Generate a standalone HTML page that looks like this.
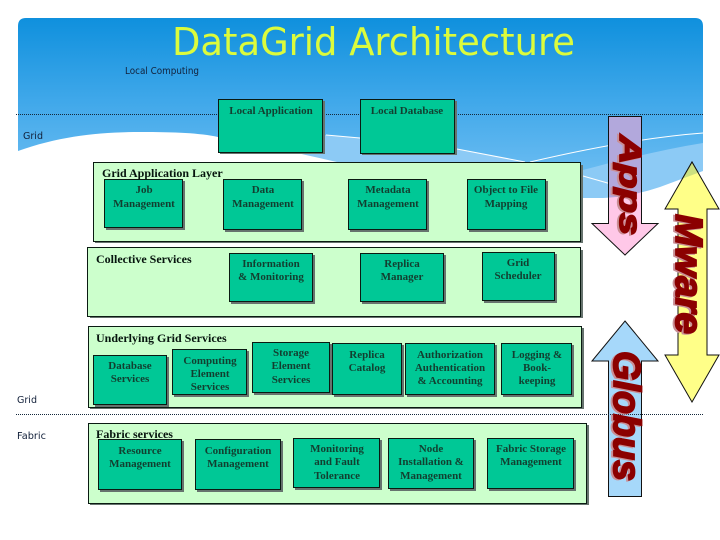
<!DOCTYPE html>
<html><head><meta charset="utf-8"><style>
html,body{margin:0;padding:0;background:#fff}
svg{display:block}
.p{fill:#ccffcc;stroke:#0a1a12;stroke-width:1}
.b{fill:#00c896;stroke:#0a1a12;stroke-width:1}
.s{fill:#66736e}
.t{font-family:"Liberation Serif",serif;font-size:11px;font-weight:bold;fill:#123f30;text-anchor:middle}
.h{font-family:"Liberation Serif",serif;font-size:12px;font-weight:bold;fill:#06140e}
.l{font-family:"DejaVu Sans",sans-serif;font-size:9.5px;fill:#12203a}
.w{font-family:"Liberation Sans",sans-serif;font-weight:bold;font-style:italic;fill:#8b0000;stroke:#8b0000;stroke-width:1.8}
.ws{font-family:"Liberation Sans",sans-serif;font-weight:bold;font-style:italic;fill:#c98f96;stroke:#c98f96;stroke-width:1.8}
</style></head><body>
<svg width="720" height="540" viewBox="0 0 720 540" xmlns="http://www.w3.org/2000/svg">
<defs>
<linearGradient id="g" x1="0" y1="18" x2="0" y2="170" gradientUnits="userSpaceOnUse">
<stop offset="0" stop-color="#0f90dd"/><stop offset=".55" stop-color="#40a8ea"/><stop offset="1" stop-color="#68bbf1"/>
</linearGradient>
<clipPath id="wave"><path d="M18 151C60 136 100 132 140 132C175 132 200 133 218 137C250 143 285 150 337 162L583 198L603 198C625 197 645 192 660 187L703 171L703 18L18 18Z"/></clipPath>
</defs>
<rect width="720" height="540" fill="#fff"/>
<!-- light band -->
<path d="M200 130L703 130V171L660 187C645 192 625 197 603 198L583 198L337 162C285 150 250 143 218 137Z" fill="#8ccaf5"/>
<!-- blue -->
<path d="M18 26Q18 18 26 18L695 18Q703 18 703 26L703 143C660 150 620 160 583 170L525 162L457 149L360 138L326 135L218 137C200 133 175 132 140 132C100 132 60 136 18 151Z" fill="url(#g)"/>
<path d="M326 135L360 138L457 149L525 162M530 162C590 148 650 137 703 133M583 176L625 188" fill="none" stroke="#fff" stroke-width="1"/>

<line x1="16" y1="114.500" x2="703" y2="114.500" stroke="#14283a" stroke-width="1" stroke-dasharray="1 1"/>
<line x1="16" y1="414.500" x2="703" y2="414.500" stroke="#14283a" stroke-width="1" stroke-dasharray="1 1"/>

<text x="172" y="55" font-family="DejaVu Sans,sans-serif" font-size="38" fill="#dcfb3c" textLength="403" lengthAdjust="spacingAndGlyphs">DataGrid Architecture</text>
<text class="l" x="125" y="74" textLength="74" lengthAdjust="spacingAndGlyphs">Local Computing</text>
<text class="l" x="23" y="139" textLength="20" lengthAdjust="spacingAndGlyphs">Grid</text>
<text class="l" x="17" y="403" textLength="20" lengthAdjust="spacingAndGlyphs">Grid</text>
<text class="l" x="17" y="439" textLength="29" lengthAdjust="spacingAndGlyphs">Fabric</text>

<!-- local boxes -->
<rect class="s" x="220" y="101" width="105" height="53"/><rect class="b" x="218.500" y="99.500" width="104" height="53"/>
<text class="t" x="271" y="114">Local Application</text>
<rect class="s" x="362" y="101" width="95" height="54"/><rect class="b" x="360.500" y="99.500" width="94" height="54"/>
<text class="t" x="407" y="114">Local Database</text>

<!-- panels -->
<rect class="s" x="95" y="165" width="488" height="78"/><rect class="p" x="93.500" y="162.500" width="487" height="79"/>
<text class="h" x="102" y="177">Grid Application Layer</text>
<rect class="s" x="90" y="250" width="493" height="68"/><rect class="p" x="87.500" y="247.500" width="493" height="69"/>
<text class="h" x="96" y="263">Collective Services</text>
<rect class="s" x="90" y="328" width="494" height="81"/><rect class="p" x="88.500" y="326.500" width="493" height="81"/>
<text class="h" x="96" y="342">Underlying Grid Services</text>
<rect class="s" x="90" y="425" width="499" height="80"/><rect class="p" x="88.500" y="423.500" width="498" height="80"/>
<text class="h" x="96" y="438">Fabric services</text>

<!-- App layer -->
<rect class="s" x="106" y="181" width="79" height="49"/><rect class="b" x="104.500" y="179.500" width="78" height="48"/>
<text class="t" x="144" y="193">Job</text><text class="t" x="144" y="207">Management</text>
<rect class="s" x="225" y="181" width="79" height="51"/><rect class="b" x="223.500" y="179.500" width="78" height="50"/>
<text class="t" x="263" y="193">Data</text><text class="t" x="263" y="207">Management</text>
<rect class="s" x="350" y="181" width="79" height="51"/><rect class="b" x="348.500" y="179.500" width="78" height="50"/>
<text class="t" x="388" y="193">Metadata</text><text class="t" x="388" y="207">Management</text>
<rect class="s" x="469" y="181" width="79" height="51"/><rect class="b" x="467.500" y="179.500" width="78" height="50"/>
<text class="t" x="506" y="193">Object to File</text><text class="t" x="506" y="207">Mapping</text>

<!-- Collective -->
<rect class="s" x="231" y="255" width="84" height="49"/><rect class="b" x="229.500" y="253.500" width="83" height="48"/>
<text class="t" x="271" y="267">Information</text><text class="t" x="271" y="280">&amp; Monitoring</text>
<rect class="s" x="362" y="255" width="84" height="49"/><rect class="b" x="360.500" y="253.500" width="83" height="48"/>
<text class="t" x="402" y="267">Replica</text><text class="t" x="402" y="280">Manager</text>
<rect class="s" x="484" y="254" width="73" height="49"/><rect class="b" x="482.500" y="252.500" width="72" height="48"/>
<text class="t" x="518" y="266">Grid</text><text class="t" x="518" y="279">Scheduler</text>

<!-- Underlying -->
<rect class="s" x="95" y="357" width="74" height="50"/><rect class="b" x="93.500" y="355.500" width="73" height="49"/>
<text class="t" x="130" y="369">Database</text><text class="t" x="130" y="382">Services</text>
<rect class="s" x="174" y="351" width="75" height="46"/><rect class="b" x="172.500" y="349.500" width="74" height="45"/>
<text class="t" x="210" y="364">Computing</text><text class="t" x="210" y="377">Element</text><text class="t" x="210" y="390">Services</text>
<rect class="s" x="254" y="344" width="78" height="51"/><rect class="b" x="252.500" y="342.500" width="77" height="50"/>
<text class="t" x="291" y="356">Storage</text><text class="t" x="291" y="369">Element</text><text class="t" x="291" y="383">Services</text>
<rect class="s" x="334" y="345" width="70" height="52"/><rect class="b" x="332.500" y="343.500" width="69" height="51"/>
<text class="t" x="367" y="358">Replica</text><text class="t" x="367" y="371">Catalog</text>
<rect class="s" x="407" y="345" width="90" height="52"/><rect class="b" x="405.500" y="343.500" width="89" height="51"/>
<text class="t" x="450" y="358">Authorization</text><text class="t" x="450" y="371">Authentication</text><text class="t" x="450" y="384">&amp; Accounting</text>
<rect class="s" x="503" y="345" width="71" height="52"/><rect class="b" x="501.500" y="343.500" width="70" height="51"/>
<text class="t" x="537" y="358">Logging &amp;</text><text class="t" x="537" y="371">Book-</text><text class="t" x="537" y="384">keeping</text>

<!-- Fabric -->
<rect class="s" x="100" y="441" width="84" height="51"/><rect class="b" x="98.500" y="439.500" width="83" height="50"/>
<text class="t" x="140" y="454">Resource</text><text class="t" x="140" y="467">Management</text>
<rect class="s" x="197" y="441" width="86" height="51"/><rect class="b" x="195.500" y="439.500" width="85" height="50"/>
<text class="t" x="238" y="454">Configuration</text><text class="t" x="238" y="467">Management</text>
<rect class="s" x="295" y="440" width="87" height="50"/><rect class="b" x="293.500" y="438.500" width="86" height="49"/>
<text class="t" x="337" y="452">Monitoring</text><text class="t" x="337" y="465">and Fault</text><text class="t" x="337" y="479">Tolerance</text>
<rect class="s" x="390" y="440" width="86" height="51"/><rect class="b" x="388.500" y="438.500" width="85" height="50"/>
<text class="t" x="431" y="452">Node</text><text class="t" x="431" y="465">Installation &amp;</text><text class="t" x="431" y="479">Management</text>
<rect class="s" x="489" y="440" width="87" height="51"/><rect class="b" x="487.500" y="438.500" width="86" height="50"/>
<text class="t" x="531" y="452">Fabric Storage</text><text class="t" x="531" y="465">Management</text>

<!-- Arrows -->
<path d="M608.500 116.500H641.500V223.500H658L625 255L592 223.500H608.500Z" fill="#ffc8e8" stroke="#111" stroke-width="1"/>
<path d="M608.500 116.500H641.500V223.500H658L625 255L592 223.500H608.500Z" fill="#b2a8dc" stroke="#111" stroke-width="1" clip-path="url(#wave)"/>
<path d="M692 162L719 209H707V355H719L692 402L665 355H678V209H665Z" fill="#ffff88" stroke="#111" stroke-width="1"/>
<path d="M692 162L719 209H707V355H719L692 402L665 355H678V209H665Z" fill="#cce080" stroke="#111" stroke-width="1" clip-path="url(#wave)"/>
<path d="M625 321L658 361H641.500V496.500H608.500V361H592Z" fill="#a6d8fa" stroke="#111" stroke-width="1"/>
<line x1="608" y1="414.500" x2="642" y2="414.500" stroke="#14283a" stroke-dasharray="1 1"/>

<!-- WordArt -->
<text class="ws" font-size="31" transform="translate(618,136) rotate(90)" textLength="100" lengthAdjust="spacingAndGlyphs">Apps</text>
<text class="w" font-size="31" transform="translate(620,135) rotate(90)" textLength="100" lengthAdjust="spacingAndGlyphs">Apps</text>
<text class="ws" font-size="38" transform="translate(674,215) rotate(90)" textLength="120" lengthAdjust="spacingAndGlyphs">Mware</text>
<text class="w" font-size="38" transform="translate(676,214) rotate(90)" textLength="120" lengthAdjust="spacingAndGlyphs">Mware</text>
<text class="ws" font-size="38" transform="translate(612,352) rotate(90)" textLength="130" lengthAdjust="spacingAndGlyphs">Globus</text>
<text class="w" font-size="38" transform="translate(614,351) rotate(90)" textLength="130" lengthAdjust="spacingAndGlyphs">Globus</text>
</svg>
</body></html>
